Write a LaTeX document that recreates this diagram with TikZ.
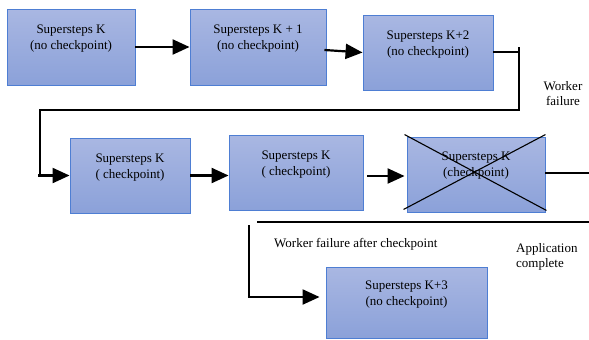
\documentclass[tikz,border=0pt]{standalone}
\usepackage{fontspec}
\setmainfont{Liberation Serif}
\newfontfamily\tnr{Liberation Serif}
\usetikzlibrary{arrows.meta,calc}
\definecolor{boxtop}{HTML}{A9B7E2}
\definecolor{boxbot}{HTML}{8BA1D9}
\definecolor{boxline}{HTML}{4E7ED3}
\begin{document}
\begin{tikzpicture}[x=1pt,y=-1pt,
  stepbox/.style={draw=boxline, line width=0.9pt, top color=boxtop, bottom color=boxbot, inner sep=0pt},
  txt/.style={anchor=north, align=center, inner sep=0pt, font=\tnr\fontsize{13}{16}\selectfont},
  lbl/.style={inner sep=0pt, font=\tnr\fontsize{13}{15}\selectfont},
  arr/.style={line width=2.2pt, -{Triangle[length=17pt,width=15pt]}},
  conn/.style={line width=1.1pt}]
\useasboundingbox (0,0) rectangle (589,340);
% boxes
\node[stepbox, minimum width=128pt, minimum height=76pt] (b1) at (71,47) {};
\node[stepbox, minimum width=136pt, minimum height=76pt] (b2) at (258,47) {};
\node[stepbox, minimum width=130pt, minimum height=75pt] (b3) at (428,52.5) {};
\node[stepbox, minimum width=120pt, minimum height=75pt] (b4) at (130,175.5) {};
\node[stepbox, minimum width=134pt, minimum height=75pt] (b5) at (296,172.5) {};
\node[stepbox, minimum width=138pt, minimum height=75pt] (b6) at (476,174.5) {};
\node[stepbox, minimum width=161pt, minimum height=71pt] (b7) at (406.5,302.5) {};
% box texts
\node[txt] (t1) at ($(b1.north)+(0,16)$) {Supersteps K\\(no checkpoint)};
\node[txt] (t2) at ($(b2.north)+(0,16)$) {Supersteps K + 1\\(no checkpoint)};
\node[txt] (t3) at ($(b3.north)+(0,16)$) {Supersteps K+2\\(no checkpoint)};
\node[txt] (t4) at ($(b4.north)+(0,16)$) {Supersteps K\\( checkpoint)};
\node[txt] (t5) at ($(b5.north)+(0,16)$) {Supersteps K\\( checkpoint)};
\node[txt] (t6) at ($(b6.north)+(0,15)$) {Supersteps K\\(checkpoint)};
\node[txt] (t7) at ($(b7.north)+(0,14)$) {Supersteps K+3\\(no checkpoint)};
% cross on failed box
\draw[conn] ($(b6.north west)+(-2,-2)$) -- ($(b6.south east)+(1,-2)$);
\draw[conn] ($(b6.south west)+(-3,-3)$) -- ($(b6.north east)+(0,-2)$);
% labels
\node[lbl, align=center] (wf) at (563,94) {Worker\\failure};
\node[lbl, anchor=west] (wfc) at (274,244) {Worker failure after checkpoint};
\node[lbl, align=left, anchor=west] (ac) at (516,256.5) {Application\\complete};
% coordinates
\coordinate (c1) at (519,52);
\coordinate (c2) at (519,47);
\coordinate (c3) at (519,110);
\coordinate (c4) at (40,110);
\coordinate (c5) at (38,175.5);
\coordinate (e6) at (589,173);
\coordinate (d1) at (257,222);
\coordinate (d2) at (589,222);
\coordinate (d3) at (249,225);
\coordinate (d4) at (249,297);
% main arrows
\draw[arr] (b1.east) -- (b2.west |- b1.east);
\draw[arr] ($(b2.east)+(-2,3)$) -- (b3.west);
\draw[arr] (b4.east) -- (b5.west |- b4.east);
\draw[arr] ($(b5.east)+(4,3.5)$) -- ($(b6.west)+(-2,1.5)$);
% worker failure loop
\draw[conn] (b3.east |- c1) -- (c1);
\draw[conn] (c2) -- (c3) -- (c4) -- (c4 |- c5);
\draw[arr] (c5) -- (b4.west);
% application complete line
\draw[conn] (b6.east |- e6) -- (e6);
% failure after checkpoint
\draw[conn] (d1) -- (d2);
\draw[conn] (d3) -- (d4) -- ++(-1,0);
\draw[arr] ($(d4)+(-1.1,0)$) -- ($(b7.west)+(-6,-5.5)$);
\end{tikzpicture}
\end{document}
